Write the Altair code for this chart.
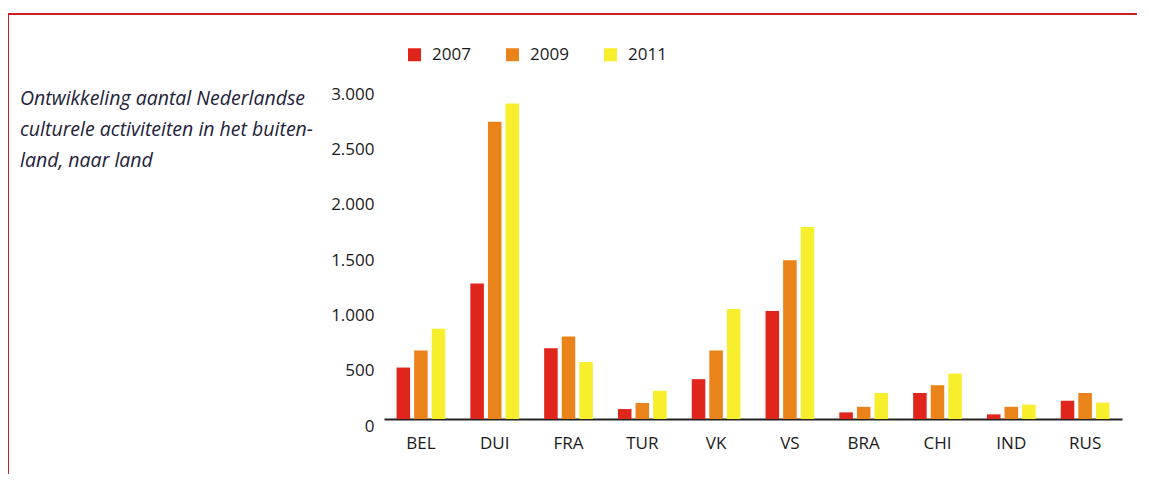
import altair as alt
import pandas as pd

countries = ["BEL", "DUI", "FRA", "TUR", "VK", "VS", "BRA", "CHI", "IND", "RUS"]
years = ["2007", "2009", "2011"]
v2007 = [465, 1225, 640, 90, 360, 975, 60, 235, 42, 165]
v2009 = [620, 2685, 745, 145, 620, 1435, 110, 305, 110, 235]
v2011 = [815, 2850, 515, 255, 995, 1735, 235, 410, 130, 148]
colors = ["#e0261c", "#ea8319", "#f7ef2c"]
y_ticks = [0, 500, 1000, 1500, 2000, 2500, 3000]
title_lines = [
    "Ontwikkeling aantal Nederlandse",
    "culturele activiteiten in het buiten-",
    "land, naar land",
]

rows = []
for yr, vals in zip(years, [v2007, v2009, v2011]):
    for c, v in zip(countries, vals):
        rows.append({"land": c, "jaar": yr, "waarde": v})
df = pd.DataFrame(rows)

FONT = "Open Sans"
TXT = "#1a1a1a"

bars = alt.Chart(df).mark_bar().encode(
    x=alt.X(
        "land:N",
        sort=countries,
        scale=alt.Scale(paddingInner=0.34, paddingOuter=0.17),
        axis=alt.Axis(
            title=None, labelAngle=0, ticks=False, domainColor="#222222",
            domainWidth=2, labelFontSize=17, labelFont=FONT, labelColor=TXT,
            labelPadding=16,
        ),
    ),
    xOffset=alt.XOffset("jaar:N", sort=years, scale=alt.Scale(paddingInner=0.23, paddingOuter=0)),
    y=alt.Y(
        "waarde:Q",
        scale=alt.Scale(domain=[0, 3000], nice=False),
        axis=alt.Axis(
            title=None, values=y_ticks, grid=False, domain=False, ticks=False,
            labelPadding=10, labelFontSize=17, labelFont=FONT, labelColor=TXT,
            labelOffset=7,
            labelExpr="replace(format(datum.value, ','), ',', '.')",
        ),
    ),
    color=alt.Color(
        "jaar:N",
        sort=years,
        scale=alt.Scale(domain=years, range=colors),
        legend=alt.Legend(
            orient="none", direction="horizontal", legendX=22, legendY=-41,
            title=None, symbolType="square", symbolSize=169, symbolStrokeWidth=0,
            labelFontSize=17, labelFont=FONT, labelColor=TXT, columnPadding=33,
            labelOffset=9, padding=0,
        ),
    ),
)

title_df = pd.DataFrame({"t": ["\n".join(title_lines)]})
title = alt.Chart(title_df).mark_text(
    align="left", baseline="top", lineBreak="\n", lineHeight=30.8,
    fontSize=19.5, font=FONT, fontStyle="italic", color="#22223a",
).encode(text="t:N", x=alt.value(-364), y=alt.value(3))

frame_df = pd.DataFrame({"k": [0]})
frame_left = alt.Chart(frame_df).mark_rule(color="#cc1f24", strokeWidth=2).encode(
    x=alt.value(-376), y=alt.value(-73), y2=alt.value(600)
)
frame_top = alt.Chart(frame_df).mark_rule(color="#cc1f24", strokeWidth=2).encode(
    y=alt.value(-73), x=alt.value(-377), x2=alt.value(1000)
)

chart = alt.layer(frame_left, frame_top, title, bars).properties(
    width=738, height=332,
    autosize=alt.AutoSizeParams(type="none"),
    padding={"left": 376, "top": 79, "right": 15, "bottom": 55},
    background="white",
).configure_view(stroke=None)

chart.save("out.html", embed_options={"renderer": "svg", "actions": False})
